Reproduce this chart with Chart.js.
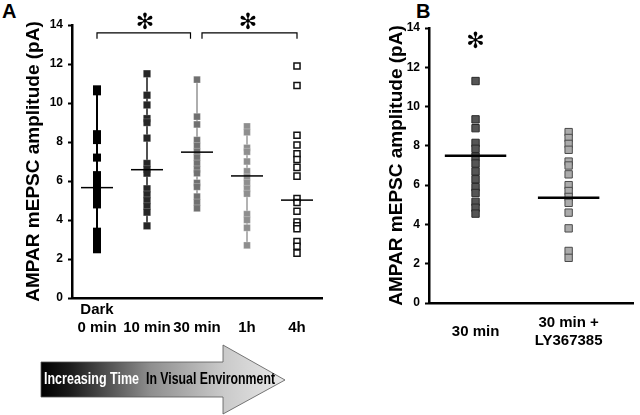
<!DOCTYPE html>
<html>
<head>
<meta charset="utf-8">
<script src="https://cdn.jsdelivr.net/npm/chart.js@4/dist/chart.umd.min.js"></script>
<style>
  body { margin:0; width:640px; height:415px; background:#fff; position:relative; overflow:hidden;
         font-family:'Liberation Sans', Arial, sans-serif; }
  .tag { position:absolute; font-weight:bold; font-size:20px; color:#000; }
  canvas { position:absolute; top:0; }
  svg { position:absolute; left:0; top:340px; }
</style>
</head>
<body>
<div class="tag" style="left:2px;top:0px">A</div>
<div class="tag" style="left:416px;top:0px">B</div>
<canvas id="chartA" width="330" height="345" style="left:0"></canvas>
<canvas id="chartB" width="265" height="350" style="left:375px"></canvas>

<svg width="300" height="75" viewBox="0 0 300 75">
  <defs>
    <linearGradient id="arrowFill" x1="41" y1="0" x2="285" y2="0" gradientUnits="userSpaceOnUse">
      <stop offset="0" stop-color="#000"/>
      <stop offset="0.12" stop-color="#1c1c1c"/>
      <stop offset="0.45" stop-color="#8f8f8f"/>
      <stop offset="0.75" stop-color="#cacaca"/>
      <stop offset="1" stop-color="#e8e8e8"/>
    </linearGradient>
  </defs>
  <polygon points="41,22 223,22 223,5 285,40 223,74 223,57 41,57"
           fill="url(#arrowFill)" stroke="#555" stroke-width="0.8"/>
  <text x="44" y="44" fill="#fff" font-family="'Liberation Sans Narrow','Liberation Sans',Arial" font-weight="bold"
        font-size="17" textLength="95" lengthAdjust="spacingAndGlyphs">Increasing Time</text>
  <text x="146" y="44" fill="#000" font-family="'Liberation Sans Narrow','Liberation Sans',Arial" font-weight="bold"
        font-size="17" textLength="129" lengthAdjust="spacingAndGlyphs">In Visual Environment</text>
</svg>

<script>
// ── Panel A data (pA) ────────────────────────────────────────────────────────
const catsA   = [['Dark', '0 min'], '10 min', '30 min', '1h', '4h'];
const dark0   = [10.7, 10.6, 8.4, 8.1, 7.2, 6.3, 6.0, 5.7, 5.4, 5.1, 4.8, 3.4, 3.1, 2.8, 2.6, 2.5];
const min10   = [11.5, 10.4, 9.9, 9.2, 9.0, 8.2, 6.9, 6.6, 6.4, 5.6, 5.3, 5.0, 4.7, 4.4, 3.7];
const min30   = [11.2, 9.3, 8.9, 8.1, 7.8, 7.5, 7.2, 6.9, 6.6, 6.4, 5.9, 5.7, 5.2, 4.9, 4.6];
const hour1   = [8.8, 8.5, 7.7, 7.5, 7.0, 6.5, 6.2, 5.9, 5.6, 5.35, 4.3, 4.0, 3.6, 2.7];
const hour4   = [11.9, 10.9, 8.35, 7.85, 7.4, 7.1, 6.7, 6.25, 5.1, 4.9, 4.45, 3.9, 3.7, 3.55, 2.9, 2.65, 2.3];
const meansA  = [5.66, 6.58, 7.48, 6.26, 5.02];
const yTicks  = [0, 2, 4, 6, 8, 10, 12, 14];

// ── Panel B data (pA) ────────────────────────────────────────────────────────
const catsB   = ['30 min', ['30 min +', 'LY367385']];
const bMin30  = [11.3, 9.35, 8.9, 8.15, 7.85, 7.45, 7.1, 6.7, 6.3, 5.9, 5.6, 5.15, 4.85, 4.55];
const bLY     = [8.7, 8.4, 8.1, 7.8, 7.2, 7.0, 6.55, 6.0, 5.7, 5.4, 5.1, 4.6, 3.8, 2.65, 2.3];
const meansB  = [7.5, 5.36];

// ── Styles ───────────────────────────────────────────────────────────────────
const FONT = "'Liberation Sans', Arial, sans-serif";
const stylesA = [
  { fill: '#000000', edge: '#000000', bw: 0,    r: 5.7, range: '#000000' },
  { fill: '#262626', edge: 'rgba(255,255,255,0.35)', bw: 0.6, r: 5.2, range: '#262626' },
  { fill: '#707070', edge: 'rgba(255,255,255,0.45)', bw: 0.6, r: 4.8, range: '#9a9a9a' },
  { fill: '#8e8e8e', edge: 'rgba(255,255,255,0.45)', bw: 0.6, r: 4.8, range: '#a0a0a0' },
  { fill: '#ffffff', edge: '#111111', bw: 1.5,  r: 4.3, range: null },
];
const stylesB = [
  { fill: '#555555', edge: '#2a2a2a', bw: 1, r: 5.2 },
  { fill: '#ababab', edge: '#4a4a4a', bw: 1, r: 5.2 },
];

// ── Helper: points of one group at x position ────────────────────────────────
const toPoints = (vals, xv) => vals.map(v => ({ x: xv, y: v }));

// ── Plugin: range lines, mean bars, brackets, asterisks ──────────────────────
const markPlugin = {
  id: 'marks',
  beforeDatasetsDraw(chart, args, opts) {
    const { ctx, scales: { x, y } } = chart;
    (opts.ranges || []).forEach(r => {
      if (!r.color) return;
      const px = x.getPixelForValue(r.x);
      ctx.save();
      ctx.strokeStyle = r.color;
      ctx.lineWidth = r.width;
      ctx.beginPath();
      ctx.moveTo(px, y.getPixelForValue(Math.max(...r.vals)));
      ctx.lineTo(px, y.getPixelForValue(Math.min(...r.vals)));
      ctx.stroke();
      ctx.restore();
    });
  },
  afterDatasetsDraw(chart, args, opts) {
    const { ctx, scales: { x, y } } = chart;
    ctx.save();
    ctx.strokeStyle = '#000';
    (opts.means || []).forEach(m => {
      const py = y.getPixelForValue(m.y);
      ctx.lineWidth = m.width;
      ctx.beginPath();
      ctx.moveTo(x.getPixelForValue(m.x - m.half), py);
      ctx.lineTo(x.getPixelForValue(m.x + m.half), py);
      ctx.stroke();
    });
    ctx.lineWidth = 1.2;
    (opts.brackets || []).forEach(b => {
      const x1 = x.getPixelForValue(b.from), x2 = x.getPixelForValue(b.to);
      const yt = y.getPixelForValue(b.y), yb = y.getPixelForValue(b.y - 0.3);
      ctx.beginPath();
      ctx.moveTo(x1, yb); ctx.lineTo(x1, yt); ctx.lineTo(x2, yt); ctx.lineTo(x2, yb);
      ctx.stroke();
    });
    ctx.fillStyle = '#000';
    ctx.font = "bold 22px 'DejaVu Sans'";
    ctx.textAlign = 'center';
    ctx.textBaseline = 'middle';
    (opts.stars || []).forEach(s => {
      ctx.fillText('\u273B', x.getPixelForValue(s.x), y.getPixelForValue(s.y));
    });
    ctx.restore();
  },
};

function yScale(width, titlePad) {
  return {
    min: 0, max: 14,
    afterFit: s => { s.width = width; },
    afterBuildTicks: s => { s.ticks = yTicks.map(v => ({ value: v })); },
    grid: { drawOnChartArea: false, drawTicks: true, tickLength: 4, tickColor: '#000', tickWidth: 2 },
    border: { display: true, color: '#000', width: 2.5 },
    ticks: { color: '#000', font: { family: FONT, size: 12, weight: 'bold' }, padding: 5 },
    title: { display: true, text: 'AMPAR mEPSC amplitude (pA)', color: '#000',
             font: { family: FONT, size: 19, weight: 'bold' }, padding: { top: titlePad, bottom: 0 } },
  };
}

function xScale(min, max, cats, height, pad, crossAlign) {
  return {
    type: 'linear', min, max,
    afterFit: s => { s.height = height; },
    afterBuildTicks: s => { s.ticks = cats.map((c, i) => ({ value: min === 0 ? i + 0.5 : i + 1 })); },
    grid: { display: false, drawTicks: false },
    border: { display: true, color: '#000', width: 2.5 },
    ticks: {
      color: '#000', font: { family: FONT, size: 15, weight: 'bold' }, padding: pad,
      maxRotation: 0, autoSkip: false, crossAlign,
      callback: (v) => cats[min === 0 ? Math.round(v - 0.5) : Math.round(v - 1)],
    },
  };
}

// ── Panel A ──────────────────────────────────────────────────────────────────
const groupsA = [dark0, min10, min30, hour1, hour4];
new Chart(document.getElementById('chartA'), {
  type: 'scatter',
  data: {
    datasets: groupsA.map((vals, i) => ({
      label: Array.isArray(catsA[i]) ? catsA[i].join(' ') : catsA[i],
      data: toPoints(vals, i + 1),
      pointStyle: 'rect',
      pointRadius: stylesA[i].r,
      pointHoverRadius: stylesA[i].r,
      backgroundColor: stylesA[i].fill,
      borderColor: stylesA[i].edge,
      borderWidth: stylesA[i].bw,
    })),
  },
  options: {
    responsive: false,
    animation: false,
    layout: { padding: { top: 25, right: 8, left: 0, bottom: 0 } },
    plugins: {
      legend: { display: false },
      tooltip: { enabled: false },
      marks: {
        ranges: groupsA.map((vals, i) => ({ x: i + 1, vals, color: stylesA[i].range, width: i === 0 ? 2 : 1.6 })),
        means: meansA.map((m, i) => ({ x: i + 1, y: m, half: 0.32, width: 1.5 })),
        brackets: [{ from: 1, to: 2.87, y: 13.6 }, { from: 3.1, to: 5, y: 13.6 }],
        stars: [{ x: 1.96, y: 14.1 }, { x: 4.02, y: 14.1 }],
      },
    },
    scales: { x: xScale(0.5, 5.5, catsA, 47, 12, 'far'), y: yScale(72, 22) },
  },
  plugins: [markPlugin],
});

// ── Panel B ──────────────────────────────────────────────────────────────────
const groupsB = [bMin30, bLY];
new Chart(document.getElementById('chartB'), {
  type: 'scatter',
  data: {
    datasets: groupsB.map((vals, i) => ({
      label: Array.isArray(catsB[i]) ? catsB[i].join(' ') : catsB[i],
      data: toPoints(vals, i + 0.5),
      pointStyle: 'rect',
      pointRadius: stylesB[i].r,
      pointHoverRadius: stylesB[i].r,
      backgroundColor: stylesB[i].fill,
      borderColor: stylesB[i].edge,
      borderWidth: stylesB[i].bw,
    })),
  },
  options: {
    responsive: false,
    animation: false,
    layout: { padding: { top: 28, right: 0, left: 0, bottom: 0 } },
    plugins: {
      legend: { display: false },
      tooltip: { enabled: false },
      marks: {
        means: meansB.map((m, i) => ({ x: i + 0.5, y: m, half: 0.33, width: 2.5 })),
        stars: [{ x: 0.5, y: 13.25 }],
      },
    },
    scales: { x: xScale(0, 2.2, catsB, 47, 20, 'center'), y: yScale(54, 10) },
  },
  plugins: [markPlugin],
});
</script>
</body>
</html>
